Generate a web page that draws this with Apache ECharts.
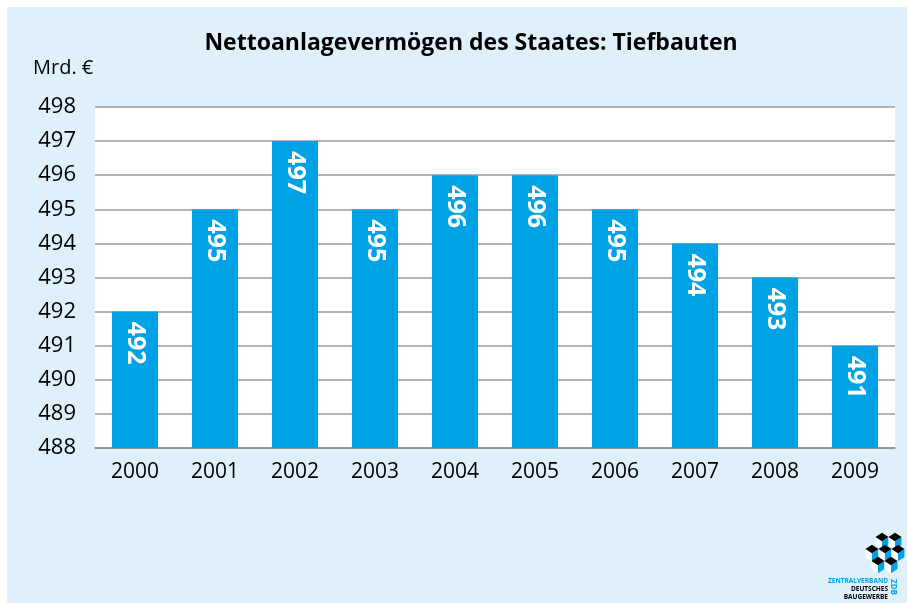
<!DOCTYPE html>
<html><head><meta charset="utf-8">
<script src="https://cdn.jsdelivr.net/npm/echarts@6/dist/echarts.min.js"></script>
<style>html,body{margin:0;padding:0;background:#fff}#c{width:907px;height:603px}</style>
</head><body><div id="c"></div>
<script>
var years = ['2000','2001','2002','2003','2004','2005','2006','2007','2008','2009'];
var values = [492,495,497,495,496,496,495,494,493,491];
var yTicks = [488,489,490,491,492,493,494,495,496,497,498];
var titleText = 'Nettoanlagevermögen des Staates: Tiefbauten';
var unitText = 'Mrd. €';

var chart = echarts.init(document.getElementById('c'));
var FONT = 'Open Sans';
var BLUE = '#00a2e6';

// logo cubes (decorative)
function cube(cx, cy) {
  var w = 6.5, h = 4.2, d = 8;
  return [
    {type:'polygon', shape:{points:[[cx-w,cy],[cx,cy+h],[cx,cy+h+d],[cx-w,cy+d]]}, style:{fill:'#ffffff'}},
    {type:'polygon', shape:{points:[[cx,cy+h],[cx+w,cy],[cx+w,cy+d],[cx,cy+h+d]]}, style:{fill:BLUE}},
    {type:'polygon', shape:{points:[[cx-w,cy],[cx,cy-h],[cx+w,cy],[cx,cy+h]]}, style:{fill:'#000'}}
  ];
}
var logo = [];
[[882,537],[895,537],[872,549],[885,549],[898,549],[878,561],[891,561]].forEach(function(p){ logo = logo.concat(cube(p[0],p[1])); });

chart.setOption({
  backgroundColor: '#ffffff',
  title: {
    text: titleText, left: 466, top: 27, textAlign: 'center',
    textStyle: {fontFamily: FONT, fontSize: 23, fontWeight: 'bold', color: '#000'}
  },
  graphic: [
    {type:'rect', left:7, top:7, z:-10, shape:{width:900, height:596}, style:{fill:'#dff0fa'}}
  ].concat(logo).concat([
    {type:'text', right: 19, top: 578, style:{text:'ZENTRALVERBAND', fill:BLUE, font:'bold 6.5px '+FONT, textAlign:'right'}},
    {type:'text', right: 19, top: 586, style:{text:'DEUTSCHES', fill:'#000', font:'bold 6.5px '+FONT, textAlign:'right'}},
    {type:'text', right: 19, top: 594, style:{text:'BAUGEWERBE', fill:'#000', font:'bold 6.5px '+FONT, textAlign:'right'}},
    {type:'text', x: 897, y: 579, rotation: -Math.PI/2, style:{text:'ZDB', fill:BLUE, font:'bold 8px '+FONT}},
    {type:'text', left: 33, top: 58, style:{text: unitText, fill:'#000', font:'20px '+FONT}}
  ]),
  grid: {left: 95, right: 12, top: 107, bottom: 155, show: true, backgroundColor: '#ffffff', borderWidth: 0},
  xAxis: {
    type: 'category', data: years,
    axisLine: {show: true, lineStyle: {color: '#8c8c8c', width: 1.5}},
    axisTick: {show: false},
    axisLabel: {fontFamily: FONT, fontSize: 21, color: '#000', margin: 14}
  },
  yAxis: {
    type: 'value', min: 488, max: 498, interval: 1,
    axisLine: {show: false}, axisTick: {show: false},
    axisLabel: {fontFamily: FONT, fontSize: 22, color: '#000', margin: 19,
      formatter: function(v){ return yTicks.indexOf(v) >= 0 ? String(v) : ''; }},
    splitLine: {lineStyle: {color: '#9a9a9a', width: 1.5}}
  },
  series: [{
    type: 'bar', data: values, barWidth: 46,
    itemStyle: {color: BLUE},
    label: {show: true, position: 'insideTop', rotate: -90, align: 'left', verticalAlign: 'middle', distance: 10,
      fontFamily: FONT, fontSize: 25, fontWeight: 'bold', color: '#fff'}
  }]
});
</script></body></html>
